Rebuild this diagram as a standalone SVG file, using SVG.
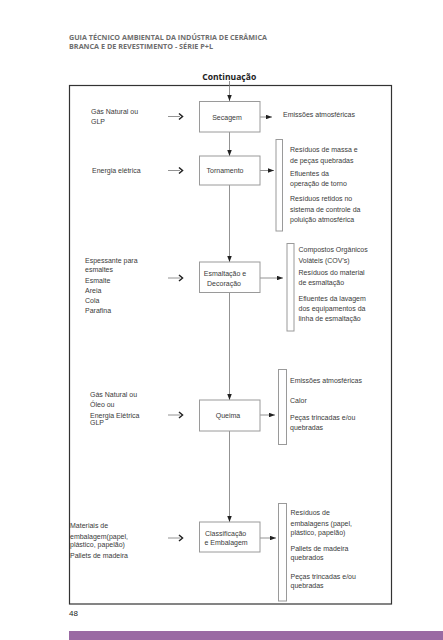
<svg xmlns="http://www.w3.org/2000/svg" width="443" height="640" viewBox="0 0 443 640">
<style>
.hdr{font-family:"Open Sans","Liberation Sans",sans-serif;font-weight:bold;font-size:7.2px;fill:#6e6e6e}
.ttl{font-family:"Open Sans","Liberation Sans",sans-serif;font-weight:bold;font-size:9px;fill:#222}
.t{font-family:"Liberation Sans",Arial,sans-serif;font-size:7px;fill:#3a3a3a}
.box{fill:#fff;stroke:#9a9a9a;stroke-width:1}
.br{fill:#fff;stroke:#9a9a9a;stroke-width:1}
.ln{stroke:#777;stroke-width:0.8;fill:none}
.chev{stroke:#222;stroke-width:1.5;fill:none}
</style>
<defs>
<marker id="ah" viewBox="0 0 6 4.5" refX="6" refY="2.25" markerWidth="6" markerHeight="4.5" markerUnits="userSpaceOnUse" orient="auto">
<path d="M0,0 L6,2.25 L0,4.5 z" fill="#222"/>
</marker>
</defs>
<rect width="443" height="640" fill="#fff"/>
<text class="hdr" x="69" y="40" textLength="198" lengthAdjust="spacingAndGlyphs">GUIA TÉCNICO AMBIENTAL DA INDÚSTRIA DE CERÂMICA</text>
<text class="hdr" x="69" y="49" textLength="144" lengthAdjust="spacingAndGlyphs">BRANCA E DE REVESTIMENTO - SÉRIE P+L</text>
<text class="ttl" x="229.2" y="80" text-anchor="middle" textLength="54" lengthAdjust="spacingAndGlyphs">Continuação</text>
<rect x="69.5" y="85.5" width="322" height="518.5" fill="none" stroke="#333" stroke-width="1.2"/>

<g id="connectors">
<line class="ln" x1="229.5" y1="81" x2="229.5" y2="101" marker-end="url(#ah)"/>
<line class="ln" x1="229.5" y1="132" x2="229.5" y2="156" marker-end="url(#ah)"/>
<line class="ln" x1="229.5" y1="185" x2="229.5" y2="262" marker-end="url(#ah)"/>
<line class="ln" x1="229.5" y1="292" x2="229.5" y2="400" marker-end="url(#ah)"/>
<line class="ln" x1="229.5" y1="431" x2="229.5" y2="522" marker-end="url(#ah)"/>
<line class="ln" x1="260" y1="117" x2="272" y2="117" marker-end="url(#ah)"/>
<line class="ln" x1="260" y1="170.5" x2="274" y2="170.5" marker-end="url(#ah)"/>
<line class="ln" x1="260" y1="278" x2="283" y2="278" marker-end="url(#ah)"/>
<line class="ln" x1="260" y1="415" x2="275" y2="415" marker-end="url(#ah)"/>
<line class="ln" x1="260" y1="538" x2="276" y2="538" marker-end="url(#ah)"/>
<line class="ln" x1="168" y1="116.5" x2="180" y2="116.5"/>
<path class="chev" d="M179,113.5 L182.5,116.5 L179,119.5"/>
<line class="ln" x1="168" y1="170.5" x2="180" y2="170.5"/>
<path class="chev" d="M179,167.5 L182.5,170.5 L179,173.5"/>
<line class="ln" x1="168" y1="278" x2="180" y2="278"/>
<path class="chev" d="M179,275 L182.5,278 L179,281"/>
<line class="ln" x1="168" y1="415" x2="180" y2="415"/>
<path class="chev" d="M179,412 L182.5,415 L179,418"/>
<line class="ln" x1="168" y1="538" x2="180" y2="538"/>
<path class="chev" d="M179,535 L182.5,538 L179,541"/>
</g>

<g id="secagem">
<rect class="box" x="199.5" y="101.5" width="60.5" height="30.5"/>
<text class="t" x="227" y="119.5" text-anchor="middle">Secagem</text>
</g>
<g id="tornamento">
<rect class="box" x="199.5" y="156" width="60.5" height="29"/>
<text class="t" x="225" y="173" text-anchor="middle">Tornamento</text>
</g>
<g id="esmaltacao">
<rect class="box" x="199.5" y="262" width="60.5" height="30.5"/>
<text class="t" x="225" y="275.5" text-anchor="middle">Esmaltação e</text>
<text class="t" x="224" y="285.5" text-anchor="middle">Decoração</text>
</g>
<g id="queima">
<rect class="box" x="199.5" y="400" width="60.5" height="31"/>
<text class="t" x="228" y="418" text-anchor="middle">Queima</text>
</g>
<g id="classificacao">
<rect class="box" x="199.5" y="522" width="60.5" height="30"/>
<text class="t" x="205" y="535.5">Classificação</text>
<text class="t" x="204.5" y="544.5">e Embalagem</text>
</g>

<g id="in-secagem">
<text class="t" x="91" y="114">Gás Natural ou</text>
<text class="t" x="91" y="124.2">GLP</text>
</g>
<g id="in-tornamento">
<text class="t" x="92" y="173.2">Energia elétrica</text>
</g>
<g id="in-esmaltacao">
<text class="t" x="85" y="262.5">Espessante para</text>
<text class="t" x="85" y="271.5">esmaltes</text>
<text class="t" x="85" y="283.2">Esmalte</text>
<text class="t" x="85" y="293.2">Areia</text>
<text class="t" x="85" y="303.2">Cola</text>
<text class="t" x="85" y="313.2">Parafina</text>
</g>
<g id="in-queima">
<text class="t" x="90" y="396.5">Gás Natural ou</text>
<text class="t" x="90" y="406.5">Óleo ou</text>
<text class="t" x="90" y="417.5">Energia Elétrica</text>
<text class="t" x="90" y="425.2">GLP</text>
</g>
<g id="in-classificacao">
<text class="t" x="70" y="527.8">Materiais de</text>
<text class="t" x="70" y="538.5">embalagem(papel,</text>
<text class="t" x="70" y="546.8">plástico, papelão)</text>
<text class="t" x="70" y="557.5">Pallets de madeira</text>
</g>

<g id="out-secagem">
<text class="t" x="283" y="117.2">Emissões atmosféricas</text>
</g>
<g id="out-tornamento">
<rect class="br" x="276" y="139.5" width="6.5" height="91.5"/>
<text class="t" x="290" y="152.2">Resíduos de massa e</text>
<text class="t" x="290" y="162.8">de peças quebradas</text>
<text class="t" x="290" y="175.5">Efluentes da</text>
<text class="t" x="290" y="185.8">operação de torno</text>
<text class="t" x="290" y="201.2">Resíduos retidos no</text>
<text class="t" x="290" y="211.5">sistema de controle da</text>
<text class="t" x="290" y="221.5">poluição atmosférica</text>
</g>
<g id="out-esmaltacao">
<rect class="br" x="287" y="243.5" width="7" height="87.5"/>
<text class="t" x="298.5" y="251.8">Compostos Orgânicos</text>
<text class="t" x="298.5" y="262.5">Voláteis (COV's)</text>
<text class="t" x="298.5" y="275.2">Resíduos do material</text>
<text class="t" x="298.5" y="285.2">de esmaltação</text>
<text class="t" x="298.5" y="300.8">Efluentes da lavagem</text>
<text class="t" x="298.5" y="311.2">dos equipamentos da</text>
<text class="t" x="298.5" y="321.2">linha de esmaltação</text>
</g>
<g id="out-queima">
<rect class="br" x="278.5" y="369.5" width="8" height="75"/>
<text class="t" x="290" y="383">Emissões atmosféricas</text>
<text class="t" x="290" y="402.5">Calor</text>
<text class="t" x="290" y="419.8">Peças trincadas e/ou</text>
<text class="t" x="290" y="429.8">quebradas</text>
</g>
<g id="out-classificacao">
<rect class="br" x="278.5" y="503.5" width="8" height="97.5"/>
<text class="t" x="290.5" y="514.8">Resíduos de</text>
<text class="t" x="290.5" y="525.8">embalagens (papel,</text>
<text class="t" x="290.5" y="534.5">plástico, papelão)</text>
<text class="t" x="290.5" y="550.8">Pallets de madeira</text>
<text class="t" x="290.5" y="559.8">quebrados</text>
<text class="t" x="290.5" y="579.2">Peças trincadas e/ou</text>
<text class="t" x="290.5" y="587.8">quebradas</text>
</g>

<text class="t" x="69" y="616" style="font-size:8px;fill:#222">48</text>
<rect x="69" y="631" width="374" height="9" fill="#9a6aa3"/>
</svg>
